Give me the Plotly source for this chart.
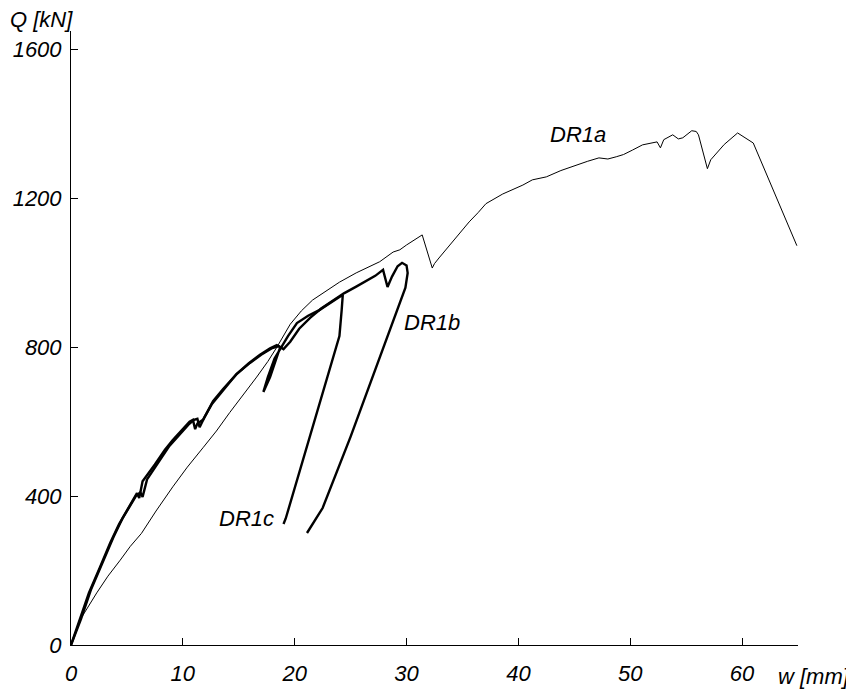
import plotly.graph_objects as go

# DR1a (thin curve)
dr1a_w = [0, 0.8, 2.3, 3.3, 4.4, 5.3, 6.3, 7.6, 9.1, 10.4, 11.8, 13.0, 14.2, 15.4, 16.6, 17.6, 18.4,
          19.6, 20.6, 21.6, 22.8, 24.0, 25.5, 26.3, 27.0, 27.6, 28.8, 29.4, 30.0, 31.2, 31.4,
          32.3, 32.5, 32.9, 34.1, 35.6, 36.4, 37.1, 38.6, 39.4, 40.4, 41.25, 42.5, 43.8, 45.2,
          46.2, 47.2, 48.0, 48.75, 49.4, 50.2, 51.1, 52.4, 52.7, 53.0, 53.8, 54.3, 54.7, 55.5,
          55.9, 56.1, 56.9, 57.2, 58.4, 59.6, 61.0, 64.9]
dr1a_q = [0, 67, 140, 185, 228, 265, 300, 360, 425, 478, 530, 575, 625, 672, 720, 762, 800,
          862, 898, 927, 950, 975, 1000, 1012, 1021, 1030, 1056, 1062, 1075, 1099, 1102,
          1013, 1025, 1040, 1083, 1137, 1162, 1186, 1212, 1222, 1236, 1250, 1258, 1275, 1290,
          1300, 1309, 1306, 1312, 1318, 1330, 1344, 1352, 1336, 1358, 1371, 1360, 1363, 1382,
          1380, 1371, 1280, 1304, 1345, 1376, 1349, 1073]

# DR1b (thick curve)
dr1b_w = [0, 0.9, 1.8, 2.9, 3.8, 4.6, 5.3, 5.8, 6.2, 6.4, 6.8, 7.8, 8.8, 9.7, 10.5, 11.0, 11.3,
          11.5, 11.9, 12.7, 13.6, 14.8, 16.0, 17.0, 18.0, 18.6, 19.0, 19.6, 20.4, 21.4, 22.4,
          23.4, 24.4, 25.5, 26.4, 27.2, 27.9, 28.1, 28.3, 28.7, 29.2, 29.6, 30.0, 30.1, 29.9,
          25.0, 22.5, 21.1]
dr1b_q = [0, 70, 150, 228, 290, 340, 375, 400, 410, 398, 445, 490, 535, 565, 592, 605, 608,
          585, 610, 655, 688, 728, 758, 780, 798, 803, 795, 815, 850, 880, 905,
          925, 945, 963, 978, 992, 1008, 985, 962, 990, 1018, 1027, 1020, 1000, 960,
          560, 368, 301]

# DR1c (thick curve)
dr1c_w = [0, 0.8, 1.6, 2.6, 3.5, 4.3, 5.0, 5.6, 5.9, 6.1, 6.4, 7.5, 8.4, 9.1, 10.0, 10.6, 10.9,
          11.1, 11.3, 11.8, 12.6, 13.5, 14.8, 15.9, 16.9, 17.8, 18.4, 18.7, 17.8, 17.2, 17.6,
          18.2, 18.8, 19.4, 20.2, 21.2, 22.2, 23.3, 24.3, 24.2, 24.0, 19.2, 19.0]
dr1c_q = [0, 72, 140, 210, 274, 325, 363, 395, 408, 395, 440, 485, 525, 551, 580, 600, 605,
          580, 595, 605, 648, 682, 728, 757, 780, 797, 806, 800, 720, 680, 720,
          770, 800, 830, 865, 885, 900, 922, 941, 900, 830, 340, 325]

x_ticks = [0, 10, 20, 30, 40, 50, 60]
y_ticks = [0, 400, 800, 1200, 1600]

FONT = "Arial, Liberation Sans, sans-serif"
FS = 22

fig = go.Figure()
fig.add_trace(go.Scatter(x=dr1a_w, y=dr1a_q, mode="lines", line=dict(color="black", width=1), name="DR1a"))
fig.add_trace(go.Scatter(x=dr1b_w, y=dr1b_q, mode="lines", line=dict(color="black", width=2.4), name="DR1b"))
fig.add_trace(go.Scatter(x=dr1c_w, y=dr1c_q, mode="lines", line=dict(color="black", width=2.4), name="DR1c"))

lab_font = dict(family=FONT, size=FS, color="black", style="italic")
for txt, xx, yy in [("DR1a", 45.3, 1371), ("DR1b", 32.3, 866), ("DR1c", 15.7, 341)]:
    fig.add_annotation(x=xx, y=yy, text=txt, showarrow=False, font=lab_font)

# page has an 8px body margin: figure coords = page coords - 8
fig.add_annotation(xref="paper", yref="paper", x=0, y=1.0, xshift=-30, yshift=12, text="Q [kN]",
                   showarrow=False, font=lab_font, xanchor="center", yanchor="middle")
fig.add_annotation(xref="paper", yref="paper", x=1.0, y=0, xshift=54, yshift=-31, text="w [mm]",
                   showarrow=False, font=lab_font, xanchor="right", yanchor="middle")

fig.update_layout(
    width=854, height=691,
    margin=dict(l=63, r=64, t=23, b=54),
    plot_bgcolor="white", paper_bgcolor="white",
    showlegend=False,
    font=dict(family=FONT, size=FS, color="black"),
)
fig.update_xaxes(range=[0, 65], tickvals=x_ticks, ticktext=[str(v) for v in x_ticks], automargin=False,
                 showgrid=False, zeroline=False, showline=True, linecolor="black", linewidth=1,
                 ticks="inside", ticklen=7, tickcolor="black", tickwidth=1,
                 tickfont=dict(family=FONT, size=FS, style="italic"), ticklabelstandoff=9)
fig.update_yaxes(range=[0, 1650], tickvals=y_ticks, ticktext=[str(v) for v in y_ticks], automargin=False,
                 showgrid=False, zeroline=False, showline=True, linecolor="black", linewidth=1,
                 ticks="inside", ticklen=7, tickcolor="black", tickwidth=1,
                 tickfont=dict(family=FONT, size=FS, style="italic"), ticklabelstandoff=4)

fig.write_html("out.html")
